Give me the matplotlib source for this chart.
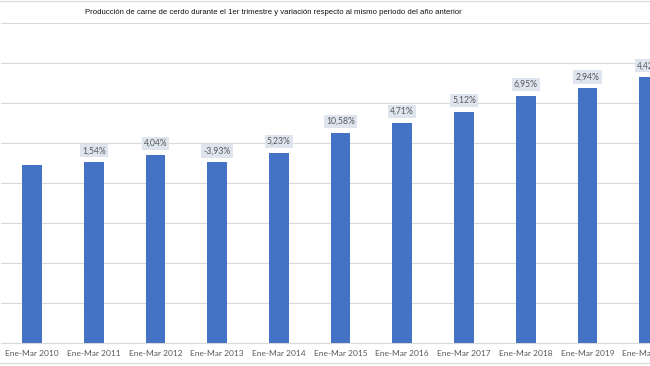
import matplotlib
matplotlib.use("Agg")
import matplotlib.pyplot as plt
from matplotlib.lines import Line2D

# Producción (miles de toneladas, estimada) y variación interanual
periodos = ["Ene-Mar 2010", "Ene-Mar 2011", "Ene-Mar 2012", "Ene-Mar 2013",
            "Ene-Mar 2014", "Ene-Mar 2015", "Ene-Mar 2016", "Ene-Mar 2017",
            "Ene-Mar 2018", "Ene-Mar 2019", "Ene-Mar 2020"]
produccion = [890, 904, 940, 903, 950, 1051, 1100, 1156, 1237, 1273, 1329]
variacion = [None, "1,54%", "4,04%", "-3,93%", "5,23%", "10,58%", "4,71%",
             "5,12%", "6,95%", "2,94%", "4,42%"]

W, H = 650, 366
fig = plt.figure(figsize=(W / 100, H / 100), dpi=100)

# plot area runs past the right edge (screenshot is cropped)
left, right, top, bottom = 1.2, 680, 23, 343
ax = fig.add_axes([left / W, (H - bottom) / H, (right - left) / W, (bottom - top) / H])

x = range(len(periodos))
ax.bar(x, produccion, width=0.32, color="#4472C4", zorder=3)

ax.set_xlim(-0.5, len(periodos) - 0.5)
ax.set_ylim(0, 1600)
ax.set_yticks(range(0, 1601, 200))
ax.yaxis.grid(True, color="#d9d9d9", linewidth=0.8, zorder=0)
ax.tick_params(axis="y", left=False, labelleft=False)
ax.tick_params(axis="x", length=0, pad=5)
ax.set_xticks(list(x))
ax.set_xticklabels(periodos, fontsize=6.0, color="#595959", family=["Lato", "DejaVu Sans"])
for s in ["top", "right", "left"]:
    ax.spines[s].set_visible(False)
ax.spines["bottom"].set_color("#d9d9d9")
ax.spines["bottom"].set_linewidth(0.8)

for i, (v, lab) in enumerate(zip(produccion, variacion)):
    if lab is None:
        continue
    ax.annotate(lab, (i, v), xytext=(0, 5), textcoords="offset points",
                ha="center", va="bottom", fontsize=6.2, color="#595959",
                family=["Lato", "DejaVu Sans"], zorder=4,
                bbox=dict(boxstyle="square,pad=0.25", fc="#dfe5ef", ec="none"))

# frame lines of the screenshot
for yy in (1, 363):
    fig.add_artist(Line2D([0, 1], [1 - yy / H, 1 - yy / H], color="#d9d9d9", linewidth=0.8))

fig.text(273.5 / W, 1 - 12.5 / H,
         "Producción de carne de cerdo durante el 1er trimestre y variación respecto al mismo periodo del año anterior",
         ha="center", va="center", fontsize=5.6, color="#111111",
         family=["Liberation Sans", "DejaVu Sans"])

fig.savefig("out.png", dpi=100)
